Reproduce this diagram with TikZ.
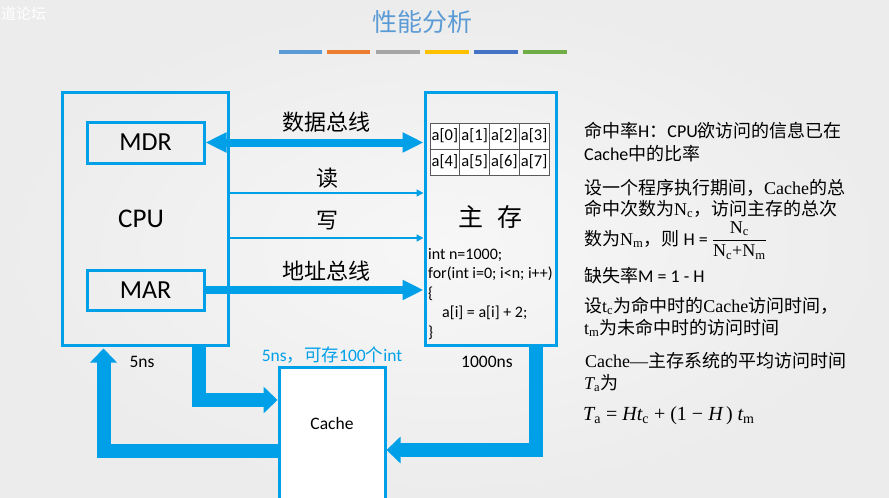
\documentclass[tikz,border=0pt]{standalone}
\usepackage{fontspec}
\setmainfont{Carlito}
\newfontfamily\cjk{Noto Sans CJK SC}
\newfontfamily\srf{Liberation Serif}
\usetikzlibrary{arrows.meta}
\definecolor{cpublue}{RGB}{0,160,233}
\definecolor{titleblue}{RGB}{91,155,213}
\definecolor{bgcol}{RGB}{236,236,236}
\definecolor{bglight}{RGB}{247,247,247}
\definecolor{cellgray}{RGB}{90,90,90}
\newcommand{\fs}[1]{\fontsize{#1}{#1}\selectfont}
\begin{document}
\begin{tikzpicture}[x=1pt,y=-1pt,
  cbox/.style={draw=cpublue, line width=3pt, inner sep=0pt},
  bus/.style={draw=cpublue, line width=8pt},
  ctl/.style={draw=cpublue, line width=1.6pt, -{Triangle[length=7pt,width=7pt]}},
  fat/.style={draw=cpublue, line width=14pt, line join=miter, -{Triangle[length=14pt,width=26pt]}},
  cell/.style={draw=cellgray, line width=0.8pt, fill=white, minimum width=29.75pt, minimum height=26pt, inner sep=0pt, font=\fs{16.5}},
  rt/.style={anchor=base west, inner sep=0pt, font=\fs{18}},
  buslbl/.style={font=\cjk\fs{22}},
  bar/.style={line width=4pt},
]
\useasboundingbox (0,0) rectangle (889,498);
\clip (0,0) rectangle (889,498);
\shade[inner color=bglight, outer color=bgcol] (0,0) rectangle (889,498);

% watermark
\node[anchor=west, text=white, font=\cjk\fs{15}, inner sep=0pt] (wm) at (1,14) {道论坛};

% title
\node[font=\cjk\fs{25}, text=titleblue] (title) at (422,22) {性能分析};
\draw[bar, draw=titleblue] (279,52) -- (322,52);
\draw[bar, draw={rgb,255:red,237;green,125;blue,49}] (327,52) -- (370,52);
\draw[bar, draw={rgb,255:red,165;green,165;blue,165}] (376,52) -- (420,52);
\draw[bar, draw={rgb,255:red,255;green,192;blue,0}] (425,52) -- (469,52);
\draw[bar, draw={rgb,255:red,68;green,114;blue,196}] (474,52) -- (518,52);
\draw[bar, draw={rgb,255:red,112;green,173;blue,71}] (523,52) -- (567,52);

% CPU
\node[cbox, minimum width=166pt, minimum height=253pt, label={[xshift=-4pt,font=\fs{27}]center:CPU}] (cpu) at (145,218.5) {};
\node[cbox, minimum width=117pt, minimum height=41pt, font=\fs{26}] (mdr) at (145.5,142.5) {MDR};
\node[cbox, minimum width=117pt, minimum height=40pt, font=\fs{26}] (mar) at (145.5,290) {MAR};

% main memory
\node[cbox, minimum width=131pt, minimum height=253pt] (mem) at (490.5,218.5) {};
\foreach \i in {0,...,7}{
  \pgfmathtruncatemacro\col{mod(\i,4)}
  \pgfmathtruncatemacro\row{\i/4}
  \node[cell] (cell\i) at ({444.875+29.75*\col},{136+26*\row}) {a[\i]};
}
\node[font=\cjk\fs{25}] (mtxt) at (490,217) {主\hspace{14pt}存};
\node[anchor=north west, align=left, inner sep=0pt, font=\fontsize{16}{19.5}\selectfont] (code) at (428,248)
  {int n=1000;\\for(int i=0; i<n; i++)\\\{\\\hspace*{14pt}a[i] = a[i] + 2;\\\}};

% buses
\draw[bus, {Triangle[length=21pt,width=19pt]}-{Triangle[length=21pt,width=19pt]}] (mdr.east) -- (mem.west |- mdr.east);
\draw[bus, -{Triangle[length=21pt,width=19pt]}] (mar.east) -- (mem.west |- mar.east);
\draw[ctl] (cpu.east |- 0,193) -- (mem.west |- 0,193);
\draw[ctl] (cpu.east |- 0,238) -- (mem.west |- 0,238);
\node[buslbl] (lbldata) at (326,122) {数据总线};
\node[buslbl] (lblread) at (327,178) {读};
\node[buslbl] (lblwrite) at (327,221) {写};
\node[buslbl] (lbladdr) at (326,271) {地址总线};

% cache
\node[cbox, fill=white, minimum width=106pt, minimum height=150pt, label={[yshift=19pt,font=\fs{17.5}]center:Cache}] (cache) at (332,442) {};
\draw[fat] ([xshift=-31pt]cpu.south east) |- (cache.west |- 0,400);
\draw[fat] (cache.west |- 0,451) -| ([xshift=43pt,yshift=-2pt]cpu.south west);
\draw[fat] ([xshift=-22pt]mem.south east) |- (cache.east |- 0,450);

\node[font=\fs{17.5}] (l5ns) at (142,362) {5ns};
\node[font=\fs{17.5}, text=cpublue] (lcache) at (332,355) {5ns{\cjk ，可存}100{\cjk 个}int};
\node[font=\fs{17.5}] (l1000) at (487,362) {1000ns};

% right text
\node[rt] (t1) at (584,137) {{\cjk 命中率}H{\cjk ：}CPU{\cjk 欲访问的信息已在}};
\node[rt] (t2) at (584,160) {Cache{\cjk 中的比率}};
\node[rt] (t3) at (584,194) {{\cjk 设一个程序执行期间，}{\srf Cache}{\cjk 的总}};
\node[rt] (t4) at (584,215) {{\cjk 命中次数为}{\srf N\textsubscript{c}}{\cjk ，访问主存的总次}};
\node[rt] (t5) at (584,245) {{\cjk 数为}{\srf N\textsubscript{m}}{\cjk ，则} H = ${\displaystyle\frac{\hbox{\srf N\textsubscript{c}}}{\hbox{\srf N\textsubscript{c}+N\textsubscript{m}}}}$};
\node[rt] (t6) at (584,282) {{\cjk 缺失率}M = 1 - H};
\node[rt] (t7) at (584,312) {{\cjk 设}{\srf t\textsubscript{c}}{\cjk 为命中时的}{\srf Cache}{\cjk 访问时间，}};
\node[rt] (t8) at (584,334) {{\srf t\textsubscript{m}}{\cjk 为未命中时的访问时间}};
\node[rt] (t9) at (585,367) {{\srf Cache—}{\cjk 主存系统的平均访问时间}};
\node[rt] (t10) at (584,389) {{\srf\itshape T}{\srf\textsubscript{a}}{\cjk 为}};
\node[rt, font=\srf\fs{20}] (t11) at (583,420) {{\itshape T}\textsubscript{a} = {\itshape Ht}\textsubscript{c} + (1 − {\itshape H}\,) {\itshape t}\textsubscript{m}};
\end{tikzpicture}
\end{document}
